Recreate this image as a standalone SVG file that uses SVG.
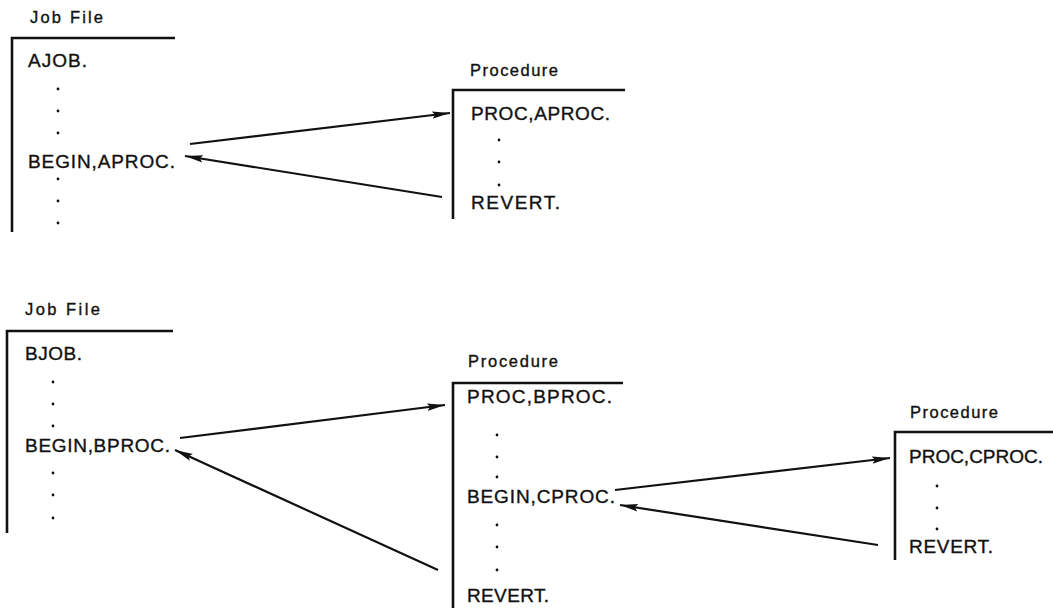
<svg xmlns="http://www.w3.org/2000/svg" width="1053" height="608" viewBox="0 0 1053 608">
<style>
text{font-family:"Liberation Sans",Arial,sans-serif;fill:#111;stroke:#111;stroke-width:0.35}
.t{font-size:19px}
.l{font-size:16.5px}
.dt{fill:#111}
.br{fill:none;stroke:#111;stroke-width:2.6}
.c{stroke:#111;stroke-width:2.2;fill:none;marker-end:url(#ah)}
</style>
<defs>
<marker id="ah" markerUnits="userSpaceOnUse" markerWidth="20" markerHeight="10" refX="18" refY="4.5" orient="auto">
<path d="M0,0.8 L18,4.5 L0,8.2 L3,4.5 z" fill="#111"/>
</marker>
</defs>
<rect width="1053" height="608" fill="#fff"/>
<g id="jobA">
<text class="l" x="30" y="23" textLength="73" lengthAdjust="spacing">Job File</text>
<path class="br" d="M175,38 H12 V232"/>
<text class="t" x="28" y="67" textLength="59" lengthAdjust="spacing">AJOB.</text>
<g class="dt"><circle cx="58" cy="89" r="1.4"/><circle cx="58" cy="111" r="1.4"/><circle cx="58" cy="133" r="1.4"/><circle cx="58" cy="179" r="1.4"/><circle cx="58" cy="201" r="1.4"/><circle cx="58" cy="223" r="1.4"/></g>
<text class="t" x="28" y="168" textLength="147" lengthAdjust="spacing">BEGIN,APROC.</text>
</g>
<g id="procA">
<text class="l" x="470" y="76" textLength="88" lengthAdjust="spacing">Procedure</text>
<path class="br" d="M625,90 H453 V219"/>
<text class="t" x="471" y="120" textLength="139" lengthAdjust="spacing">PROC,APROC.</text>
<g class="dt"><circle cx="499" cy="140" r="1.4"/><circle cx="499" cy="162" r="1.4"/><circle cx="499" cy="185" r="1.4"/></g>
<text class="t" x="471" y="209" textLength="89" lengthAdjust="spacing">REVERT.</text>
</g>
<g id="jobB">
<text class="l" x="25" y="315" textLength="75" lengthAdjust="spacing">Job File</text>
<path class="br" d="M173,331 H7 V533"/>
<text class="t" x="25" y="360" textLength="57" lengthAdjust="spacing">BJOB.</text>
<g class="dt"><circle cx="53" cy="382" r="1.4"/><circle cx="53" cy="404" r="1.4"/><circle cx="53" cy="426" r="1.4"/><circle cx="53" cy="473" r="1.4"/><circle cx="53" cy="495" r="1.4"/><circle cx="53" cy="518" r="1.4"/></g>
<text class="t" x="25" y="452" textLength="145" lengthAdjust="spacing">BEGIN,BPROC.</text>
</g>
<g id="procB">
<text class="l" x="468" y="367" textLength="90" lengthAdjust="spacing">Procedure</text>
<path class="br" d="M623,383 H453 V608"/>
<text class="t" x="467" y="403" textLength="145" lengthAdjust="spacing">PROC,BPROC.</text>
<g class="dt"><circle cx="497" cy="435" r="1.4"/><circle cx="497" cy="457" r="1.4"/><circle cx="497" cy="477" r="1.4"/><circle cx="497" cy="525" r="1.4"/><circle cx="497" cy="547" r="1.4"/><circle cx="497" cy="570" r="1.4"/></g>
<text class="t" x="467" y="503" textLength="148" lengthAdjust="spacing">BEGIN,CPROC.</text>
<text class="t" x="467" y="602" textLength="82" lengthAdjust="spacing">REVERT.</text>
</g>
<g id="procC">
<text class="l" x="910" y="418" textLength="88" lengthAdjust="spacing">Procedure</text>
<path class="br" d="M1053,432 H895 V560"/>
<text class="t" x="909" y="463" textLength="134" lengthAdjust="spacing">PROC,CPROC.</text>
<g class="dt"><circle cx="937" cy="486" r="1.4"/><circle cx="937" cy="508" r="1.4"/><circle cx="937" cy="529" r="1.4"/></g>
<text class="t" x="909" y="553" textLength="84" lengthAdjust="spacing">REVERT.</text>
</g>
<g id="connectors">
<line class="c" x1="190" y1="144" x2="450" y2="113"/>
<line class="c" x1="442" y1="197" x2="185" y2="156"/>
<line class="c" x1="180" y1="438" x2="445" y2="405"/>
<line class="c" x1="438" y1="570" x2="175" y2="450"/>
<line class="c" x1="615" y1="490" x2="890" y2="458"/>
<line class="c" x1="878" y1="545" x2="620" y2="505"/>
</g>
</svg>
